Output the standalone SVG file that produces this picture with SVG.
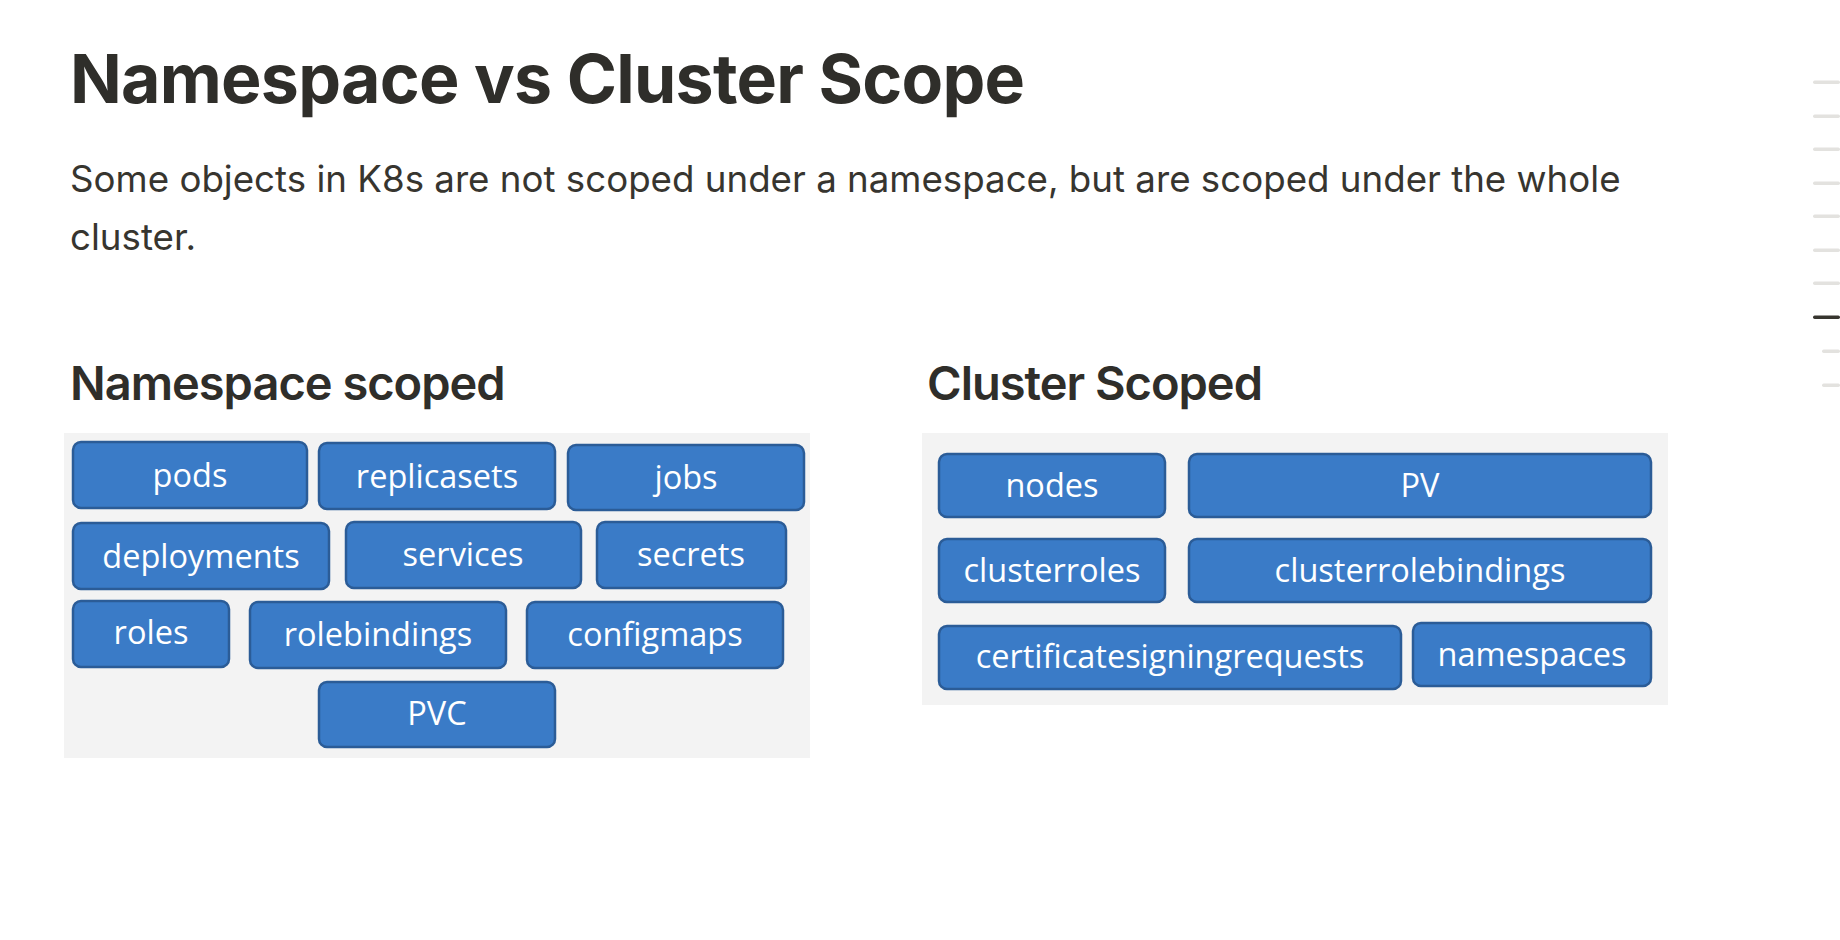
<svg xmlns="http://www.w3.org/2000/svg" width="1840" height="940" viewBox="0 0 1840 940">
<style>
.title{font-family:Inter,"Noto Sans",sans-serif;font-weight:700;font-size:68px;letter-spacing:-0.75px;fill:#2f2e2a}
.para{font-family:Inter,"Noto Sans",sans-serif;font-weight:400;font-size:36.7px;fill:#37352f}
.h2{font-family:Inter,"Noto Sans",sans-serif;font-weight:600;font-size:47px;letter-spacing:-1px;fill:#2f2e2a}
.panel{fill:#f3f3f3}
.box{fill:#3a7bc7;stroke:#2b5c97;stroke-width:2.5}
.lbl{font-family:"Open Sans","Noto Sans",sans-serif;font-size:32.5px;fill:#ffffff;text-anchor:middle}
.tick{fill:#e3e2df}
.tickon{fill:#37352f}
</style>
<rect width="1840" height="940" fill="#ffffff"/>
<text class="title" x="70" y="103">Namespace vs Cluster Scope</text>
<text class="para" x="70" y="192">Some objects in K8s are not scoped under a namespace, but are scoped under the whole</text>
<text class="para" x="70" y="250">cluster.</text>
<text class="h2" x="70" y="400">Namespace scoped</text>
<text class="h2" x="927" y="400">Cluster Scoped</text>

<g id="ns-panel"><rect class="panel" x="64" y="433" width="746" height="325"/></g>
<g id="cl-panel"><rect class="panel" x="922" y="433" width="746" height="272"/></g>

<g id="pods"><rect class="box" x="73" y="442" width="234" height="66" rx="8"/><text class="lbl" x="190" y="487">pods</text></g>
<g id="replicasets"><rect class="box" x="319" y="443" width="236" height="66" rx="8"/><text class="lbl" x="437" y="488">replicasets</text></g>
<g id="jobs"><rect class="box" x="568" y="445" width="236" height="65" rx="8"/><text class="lbl" x="686" y="489">jobs</text></g>
<g id="deployments"><rect class="box" x="73" y="523" width="256" height="66" rx="8"/><text class="lbl" x="201" y="568">deployments</text></g>
<g id="services"><rect class="box" x="346" y="522" width="235" height="66" rx="8"/><text class="lbl" x="463" y="566">services</text></g>
<g id="secrets"><rect class="box" x="597" y="522" width="189" height="66" rx="8"/><text class="lbl" x="691" y="566">secrets</text></g>
<g id="roles"><rect class="box" x="73" y="601" width="156" height="66" rx="8"/><text class="lbl" x="151" y="644">roles</text></g>
<g id="rolebindings"><rect class="box" x="250" y="602" width="256" height="66" rx="8"/><text class="lbl" x="378" y="646">rolebindings</text></g>
<g id="configmaps"><rect class="box" x="527" y="602" width="256" height="66" rx="8"/><text class="lbl" x="655" y="646">configmaps</text></g>
<g id="PVC"><rect class="box" x="319" y="682" width="236" height="65" rx="8"/><text class="lbl" x="437" y="725">PVC</text></g>

<g id="nodes"><rect class="box" x="939" y="454" width="226" height="63" rx="8"/><text class="lbl" x="1052" y="497">nodes</text></g>
<g id="PV"><rect class="box" x="1189" y="454" width="462" height="63" rx="8"/><text class="lbl" x="1420" y="497">PV</text></g>
<g id="clusterroles"><rect class="box" x="939" y="539" width="226" height="63" rx="8"/><text class="lbl" x="1052" y="582">clusterroles</text></g>
<g id="clusterrolebindings"><rect class="box" x="1189" y="539" width="462" height="63" rx="8"/><text class="lbl" x="1420" y="582">clusterrolebindings</text></g>
<g id="certificatesigningrequests"><rect class="box" x="939" y="626" width="462" height="63" rx="8"/><text class="lbl" x="1170" y="668">certificatesigningrequests</text></g>
<g id="namespaces"><rect class="box" x="1413" y="623" width="238" height="63" rx="8"/><text class="lbl" x="1532" y="666">namespaces</text></g>

<g id="connectors"></g>

<g id="toc">
<rect class="tick" x="1813" y="80.5" width="27" height="3.5" rx="1.7"/>
<rect class="tick" x="1813" y="114.5" width="27" height="3.5" rx="1.7"/>
<rect class="tick" x="1813" y="147.5" width="27" height="3.5" rx="1.7"/>
<rect class="tick" x="1813" y="181.5" width="27" height="3.5" rx="1.7"/>
<rect class="tick" x="1813" y="214.5" width="27" height="3.5" rx="1.7"/>
<rect class="tick" x="1813" y="248.5" width="27" height="3.5" rx="1.7"/>
<rect class="tick" x="1813" y="281.5" width="27" height="3.5" rx="1.7"/>
<rect class="tickon" x="1813" y="315.5" width="27" height="3.5" rx="1.7"/>
<rect class="tick" x="1822" y="349.5" width="18" height="3.5" rx="1.7"/>
<rect class="tick" x="1822" y="383.5" width="18" height="3.5" rx="1.7"/>
</g>
</svg>
